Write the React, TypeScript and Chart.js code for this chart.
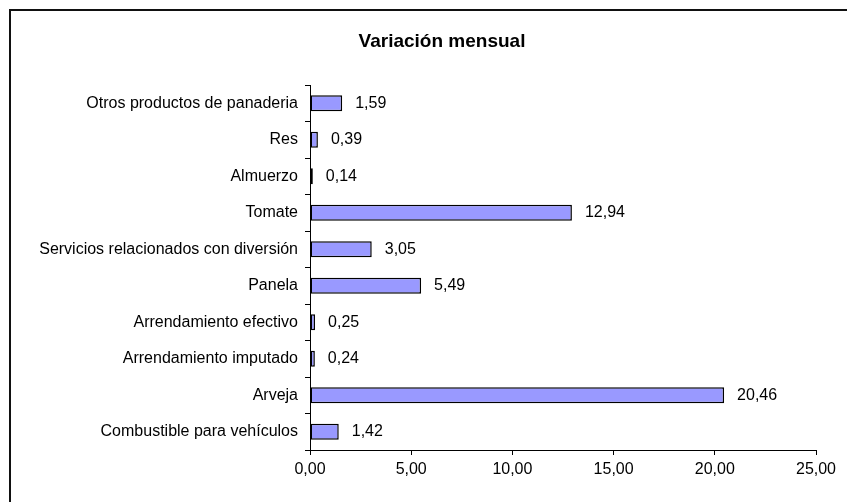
import React, { useEffect, useRef } from "react";
import { Chart, registerables } from "chart.js";

Chart.register(...registerables);

const title = "Variación mensual";
const categories = [
  "Otros productos de panaderia",
  "Res",
  "Almuerzo",
  "Tomate",
  "Servicios relacionados con diversión",
  "Panela",
  "Arrendamiento efectivo",
  "Arrendamiento imputado",
  "Arveja",
  "Combustible para vehículos",
];
const values = [1.59, 0.39, 0.14, 12.94, 3.05, 5.49, 0.25, 0.24, 20.46, 1.42];
const xMin = 0;
const xMax = 25;
const xStep = 5;

const FONT = '"Liberation Sans", Arial, sans-serif';
const fmt = (v: number) => v.toFixed(2).replace(".", ",");

export default function App() {
  const ref = useRef<HTMLCanvasElement | null>(null);

  useEffect(() => {
    if (!ref.current) return;
    const labelPlugin = {
      id: "valueLabels",
      afterDatasetsDraw(chart: any) {
        const ctx = chart.ctx;
        const meta = chart.getDatasetMeta(0);
        ctx.save();
        ctx.font = `16px ${FONT}`;
        ctx.fillStyle = "#000";
        ctx.textAlign = "left";
        ctx.textBaseline = "middle";
        meta.data.forEach((el: any, i: number) => {
          ctx.fillText(fmt(values[i]), el.x + 13, el.y);
        });
        ctx.restore();
      },
    };
    const titlePlugin = {
      id: "customTitle",
      afterDraw(chart: any) {
        const ctx = chart.ctx;
        ctx.save();
        ctx.font = `bold 19px ${FONT}`;
        ctx.fillStyle = "#000";
        ctx.textAlign = "center";
        ctx.textBaseline = "middle";
        ctx.fillText(title, 442, 42);
        ctx.restore();
      },
    };
    const chart = new Chart(ref.current, {
      type: "bar",
      data: {
        labels: categories,
        datasets: [
          {
            data: values,
            backgroundColor: "#9999FF",
            borderColor: "#000000",
            borderWidth: 1.5,
            borderSkipped: false,
            barPercentage: 0.44,
            categoryPercentage: 1,
          },
        ],
      },
      options: {
        indexAxis: "y",
        responsive: false,
        animation: false,
        layout: { padding: { top: 85, left: 0, right: 31, bottom: 0 } },
        plugins: {
          legend: { display: false },
          title: { display: false },
          tooltip: { enabled: false },
        },
        scales: {
          x: {
            min: xMin,
            max: xMax,
            afterFit(scale: any) {
              scale.height = 52;
            },
            ticks: {
              stepSize: xStep,
              color: "#000",
              padding: 5,
              font: { family: FONT, size: 16 },
              callback: (v: any) => fmt(Number(v)),
            },
            grid: {
              drawOnChartArea: false,
              drawTicks: true,
              tickLength: 5,
              color: "#000",
            },
            border: { display: true, color: "#000", width: 1 },
          },
          y: {
            afterFit(scale: any) {
              scale.width = 310;
            },
            ticks: {
              color: "#000",
              padding: 7,
              font: { family: FONT, size: 16 },
            },
            grid: {
              offset: true,
              drawOnChartArea: false,
              drawTicks: true,
              tickLength: 5,
              color: "#000",
            },
            border: { display: true, color: "#000", width: 1 },
          },
        },
      },
      plugins: [labelPlugin, titlePlugin],
    } as any);
    return () => chart.destroy();
  }, []);

  return (
    <>
      <div
        style={{
          position: "fixed",
          left: 9,
          top: 9,
          right: 0,
          bottom: 0,
          borderLeft: "2px solid #111",
          borderTop: "2px solid #111",
          background: "#fff",
        }}
      />
      <canvas
        ref={ref}
        width={847}
        height={502}
        style={{ position: "fixed", left: 0, top: 0, width: 847, height: 502 }}
      />
    </>
  );
}
